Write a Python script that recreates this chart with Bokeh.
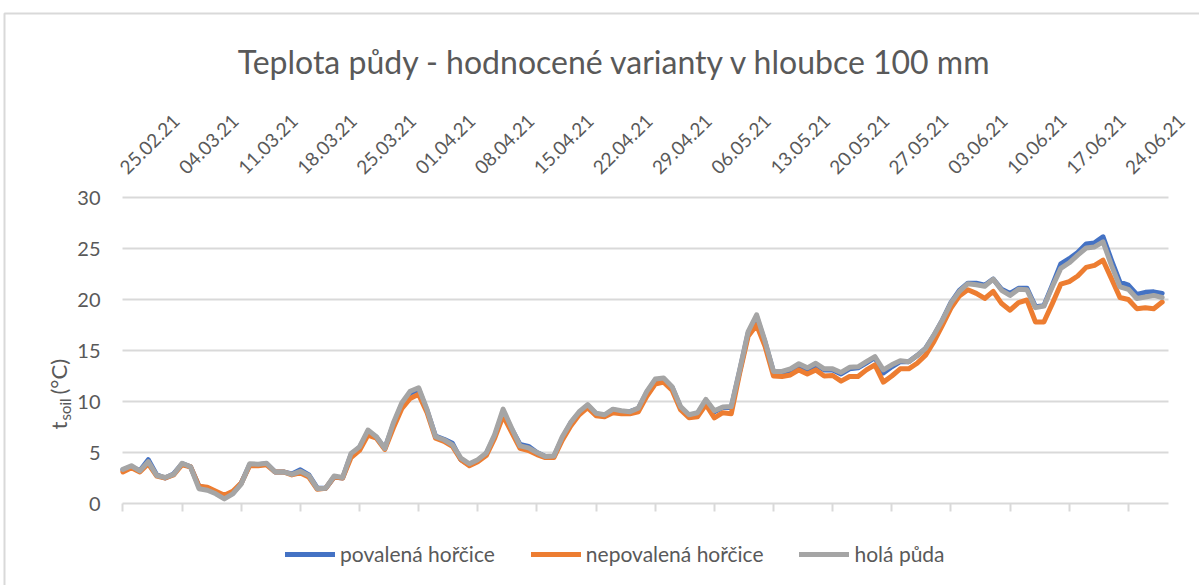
import pandas as pd
from math import pi
from bokeh.plotting import figure
from bokeh.models import (DatetimeAxis, LinearAxis, FixedTicker, DatetimeTickFormatter,
                          CustomJSTickFormatter, Legend, LegendItem, Label, Range1d)
from bokeh.embed import file_html
from bokeh.resources import INLINE

# ---------------- data ----------------
start_date = "2021-02-25"

tick_labels = ["25.02.21", "04.03.21", "11.03.21", "18.03.21", "25.03.21", "01.04.21",
               "08.04.21", "15.04.21", "22.04.21", "29.04.21", "06.05.21", "13.05.21",
               "20.05.21", "27.05.21", "03.06.21", "10.06.21", "17.06.21", "24.06.21"]

y_ticks = [0, 5, 10, 15, 20, 25, 30]

series_names = ["povalená hořčice", "nepovalená hořčice", "holá půda"]
series_colors = ["#4472c4", "#ed7d31", "#a5a5a5"]

povalena = [3.3, 3.6, 3.2, 4.3, 2.8, 2.5, 2.9, 3.9, 3.6, 1.7, 1.5, 1.1, 0.6, 1.0, 2.0, 3.8,
            3.8, 3.9, 3.1, 3.1, 2.9, 3.3, 2.8, 1.5, 1.5, 2.6, 2.5, 4.8, 5.5, 7.0, 6.5, 5.4,
            7.7, 9.7, 10.8, 11.2, 9.1, 6.6, 6.3, 5.9, 4.3, 3.8, 4.2, 4.9, 6.6, 9.0, 7.3, 5.8,
            5.6, 5.0, 4.6, 4.6, 6.4, 7.9, 8.9, 9.6, 8.8, 8.6, 9.2, 9.0, 9.0, 9.3, 10.9, 12.1,
            12.2, 11.4, 9.4, 8.6, 8.8, 10.1, 9.0, 9.4, 9.4, 13.0, 16.7, 18.3, 15.8, 12.9, 12.9,
            13.0, 13.4, 13.0, 13.6, 13.1, 13.1, 12.7, 13.2, 13.3, 13.8, 14.3, 12.8, 13.4, 13.9,
            13.9, 14.5, 15.2, 16.5, 18.0, 19.7, 20.9, 21.6, 21.6, 21.4, 22.0, 21.0, 20.6, 21.1,
            21.1, 19.3, 19.4, 21.4, 23.5, 24.0, 24.6, 25.45, 25.55, 26.15, 23.85, 21.7, 21.4,
            20.5, 20.7, 20.75, 20.6]

nepovalena = [3.1, 3.5, 3.1, 3.9, 2.7, 2.5, 2.8, 3.8, 3.6, 1.7, 1.6, 1.2, 0.8, 1.2, 2.0, 3.7,
              3.7, 3.8, 3.1, 3.1, 2.8, 3.0, 2.6, 1.4, 1.5, 2.6, 2.5, 4.5, 5.2, 6.7, 6.4, 5.3,
              7.4, 9.3, 10.3, 10.7, 8.9, 6.4, 6.1, 5.6, 4.3, 3.7, 4.1, 4.7, 6.4, 8.6, 7.0, 5.4,
              5.2, 4.8, 4.5, 4.5, 6.2, 7.6, 8.7, 9.4, 8.6, 8.5, 8.9, 8.8, 8.8, 9.0, 10.5, 11.7,
              11.9, 11.1, 9.2, 8.4, 8.5, 9.7, 8.4, 8.9, 8.8, 12.8, 16.4, 17.5, 15.4, 12.5, 12.45,
              12.6, 13.1, 12.7, 13.1, 12.5, 12.55, 12.0, 12.45, 12.45, 13.1, 13.6, 11.9, 12.5,
              13.2, 13.2, 13.75, 14.55, 15.9, 17.5, 19.15, 20.35, 20.95, 20.6, 20.1, 20.8, 19.6,
              18.95, 19.7, 19.95, 17.8, 17.8, 19.6, 21.5, 21.75, 22.3, 23.15, 23.35, 23.85, 22.05,
              20.2, 20.0, 19.1, 19.2, 19.1, 19.75]

hola = [3.35, 3.7, 3.2, 4.1, 2.75, 2.55, 2.85, 3.95, 3.6, 1.45, 1.3, 0.95, 0.45, 0.95, 1.9, 3.9,
        3.85, 3.95, 3.1, 3.1, 2.85, 3.15, 2.75, 1.45, 1.5, 2.7, 2.55, 4.9, 5.55, 7.2, 6.55, 5.4,
        7.9, 9.85, 11.0, 11.35, 9.2, 6.55, 6.25, 5.75, 4.45, 3.9, 4.3, 4.95, 6.75, 9.25, 7.4, 5.65,
        5.45, 5.0, 4.6, 4.65, 6.55, 7.95, 9.0, 9.7, 8.85, 8.7, 9.25, 9.1, 9.0, 9.35, 11.0, 12.2,
        12.3, 11.45, 9.5, 8.7, 8.9, 10.2, 9.1, 9.45, 9.5, 13.1, 16.85, 18.5, 15.9, 12.95, 12.95,
        13.2, 13.7, 13.3, 13.75, 13.2, 13.2, 12.85, 13.35, 13.4, 13.9, 14.4, 13.1, 13.6, 14.0,
        13.9, 14.5, 15.2, 16.55, 18.0, 19.65, 20.8, 21.55, 21.45, 21.3, 22.0, 20.9, 20.4, 21.0,
        20.95, 19.2, 19.35, 21.25, 23.05, 23.6, 24.35, 25.05, 25.15, 25.65, 23.35, 21.25, 21.0,
        20.1, 20.25, 20.4, 20.2]

title_text = "Teplota půdy - hodnocené varianty v hloubce 100 mm"
ylabel_parts = ["t", "soil", " (°C)"]

# ---------------- layout helpers (pixel layout of the picture) ----------------
W, H = 1199, 585
PLOT_L, PLOT_R, PLOT_T, PLOT_B = 122, 1168, 197, 503   # plot area in pixels
DAYS_SHOWN = 123.8
Y_MAX = 30

dates = pd.date_range(start_date, periods=len(hola), freq="D")
tick_dates = pd.to_datetime(tick_labels, format="%d.%m.%y")
epoch = pd.Timestamp("1970-01-01")
MS = pd.Timedelta(milliseconds=1)
tick_ms = [(d - epoch) / MS for d in tick_dates]
day_ms = 86400000.0
x_frame0 = (pd.Timestamp(start_date) - epoch) / MS - 0.05 * day_ms
px_per_day = (PLOT_R - PLOT_L) / DAYS_SHOWN
px_per_unit = (PLOT_B - PLOT_T) / Y_MAX


def xpx(ix):
    return x_frame0 + (ix - PLOT_L) / px_per_day * day_ms


def ypx(iy):
    return (PLOT_B - iy) / px_per_unit


x_frame1 = xpx(PLOT_R)

FONT = "Lato"
TXT = "#595959"
GRID = "#d9d9d9"

p = figure(width=W, height=H, x_axis_type=None, y_axis_type=None,
           x_range=Range1d(xpx(0), xpx(W)), y_range=Range1d(ypx(H), ypx(0)),
           output_backend="svg", toolbar_location=None, min_border=0)
p.outline_line_color = None

# chart border (top and left edges)
p.line([xpx(4), xpx(4), xpx(W)], [ypx(H), ypx(13), ypx(13)], line_color=GRID, line_width=2)

# horizontal gridlines
gy = y_ticks[1:]
p.segment(x0=[x_frame0] * len(gy), y0=gy, x1=[x_frame1] * len(gy), y1=gy,
          line_color=GRID, line_width=2)

# y axis (labels only)
yaxis = LinearAxis(fixed_location=x_frame0, bounds=(0, Y_MAX), ticker=FixedTicker(ticks=y_ticks),
                   axis_line_color=None, major_tick_line_color=None, minor_tick_line_color=None,
                   major_label_text_font=FONT, major_label_text_font_size="20px",
                   major_label_text_color=TXT, major_label_standoff=16)
p.add_layout(yaxis, "left")

# bottom x axis: line + outward tick marks, no labels
xaxis = DatetimeAxis(fixed_location=0, bounds=(x_frame0, x_frame1),
                     ticker=FixedTicker(ticks=tick_ms),
                     formatter=CustomJSTickFormatter(code="return ''"),
                     axis_line_color=GRID, axis_line_width=2,
                     major_tick_line_color=GRID, major_tick_line_width=2,
                     major_tick_in=0, major_tick_out=8, minor_tick_line_color=None)
p.add_layout(xaxis, "below")

# top axis with rotated date labels
fmt = DatetimeTickFormatter(days="%d.%m.%y", months="%d.%m.%y", years="%d.%m.%y",
                            hours="%d.%m.%y", hourmin="%d.%m.%y")
top_axis = DatetimeAxis(fixed_location=Y_MAX, bounds=(x_frame0, x_frame1),
                        ticker=FixedTicker(ticks=tick_ms), formatter=fmt,
                        major_label_orientation=pi / 4,
                        axis_line_color=None, major_tick_line_color=None,
                        minor_tick_line_color=None, major_label_standoff=21,
                        major_label_text_font=FONT, major_label_text_font_size="19px",
                        major_label_text_color=TXT)
p.add_layout(top_axis, "above")

renderers = []
for vals, col in zip([povalena, nepovalena, hola], series_colors):
    r = p.line(dates, vals, line_color=col, line_width=5, line_join="round", line_cap="round")
    renderers.append(r)

legend = Legend(items=[LegendItem(label=n, renderers=[r]) for n, r in zip(series_names, renderers)],
                orientation="horizontal", location=(285, 19),
                glyph_width=50, glyph_height=20, label_height=20, label_standoff=5, spacing=36,
                padding=0, margin=0, border_line_color=None, background_fill_alpha=0,
                label_text_font=FONT, label_text_font_size="21px", label_text_color=TXT)
p.add_layout(legend)

# title
p.add_layout(Label(x=xpx(615), y=ypx(61), text=title_text, text_align="center",
                   text_baseline="alphabetic", text_font=FONT, text_font_size="32px",
                   text_color=TXT))

# y-axis title t_soil (°C), subscript drawn smaller and shifted
p.add_layout(Label(x=xpx(58), y=ypx(429), text=ylabel_parts[0], angle=pi / 2,
                   text_align="left", text_baseline="middle", text_font=FONT,
                   text_font_size="22px", text_color=TXT))
p.add_layout(Label(x=xpx(64), y=ypx(420), text=ylabel_parts[1], angle=pi / 2,
                   text_align="left", text_baseline="middle", text_font=FONT,
                   text_font_size="15px", text_color=TXT))
p.add_layout(Label(x=xpx(58), y=ypx(394), text=ylabel_parts[2], angle=pi / 2,
                   text_align="left", text_baseline="middle", text_font=FONT,
                   text_font_size="22px", text_color=TXT))

open("out.html", "w").write(file_html(p, INLINE))
